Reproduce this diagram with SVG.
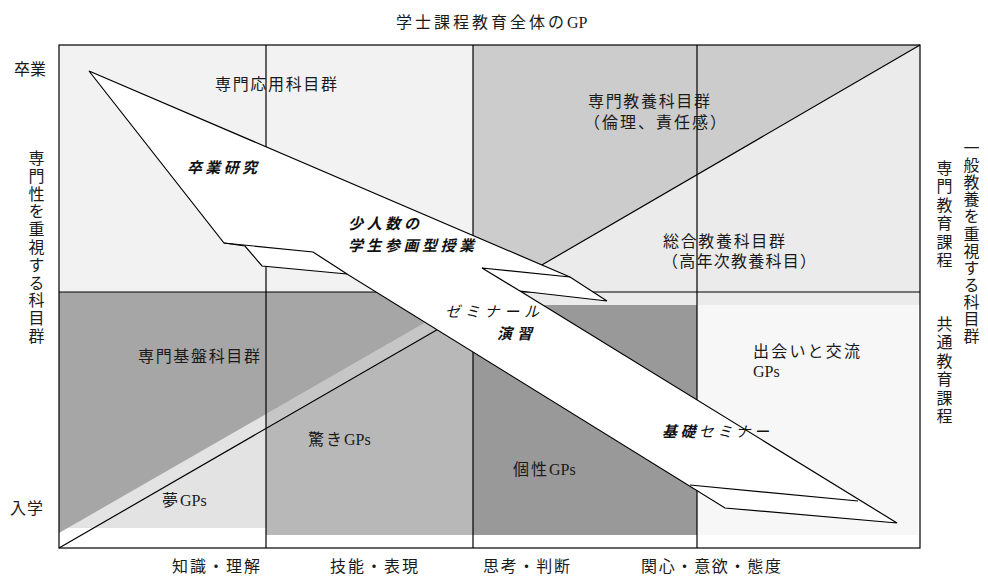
<svg xmlns="http://www.w3.org/2000/svg" width="988" height="577" viewBox="0 0 988 577">
<style>
text{font-family:"Liberation Serif","Noto Sans CJK JP",serif;font-size:16px;fill:#1a1a1a}
.bi{font-family:"Noto Sans CJK JP",sans-serif;font-style:italic;font-weight:bold;fill:#111;font-size:15px}
.i{font-family:"Noto Sans CJK JP",sans-serif;font-style:italic;font-weight:normal;fill:#111;font-size:15px}
.v{writing-mode:vertical-rl}
.ls{letter-spacing:2px}
.ln{stroke:#000;stroke-width:1.2;fill:none}
.arrow{fill:#fff;stroke:#000;stroke-width:1.2;stroke-linejoin:miter}
</style>
<rect width="988" height="577" fill="#fff"/>
<g id="regions">
  <rect id="r-top-left" x="59" y="45" width="414" height="247" fill="#f2f2f2"/>
  <rect id="r-general" x="473" y="45" width="447" height="260" fill="#ebebeb"/>
  <polygon id="r-senmon-kyoyo" points="473,45 920,45 473,305" fill="#cccccc"/>
  <rect id="r-yume" x="59" y="292" width="207" height="236" fill="#e3e3e3"/>
  <rect id="r-odoroki" x="266" y="292" width="207" height="243" fill="#b8b8b8"/>
  <polygon id="r-kiban" points="59,292 473,292 473,295 59,533" fill="#a6a6a6"/>
  <polygon id="r-band" points="266,414 473,295 473,309 266,428" fill="#c6c6c6"/>
  <rect id="r-kosei" x="473" y="305" width="224" height="230" fill="#999999"/>
  <rect id="r-deai" x="697" y="305" width="221" height="230" fill="#f7f7f7"/>
</g>
<g id="connectors">
  <rect x="59" y="45" width="861" height="503" class="ln" stroke-width="1.4"/>
  <line x1="266" y1="45" x2="266" y2="548" class="ln"/>
  <line x1="473" y1="45" x2="473" y2="548" class="ln"/>
  <line x1="697" y1="45" x2="697" y2="548" class="ln"/>
  <line x1="59" y1="292" x2="920" y2="292" class="ln"/>
  <line x1="920" y1="45" x2="473" y2="305" class="ln"/>
  <line x1="59" y1="548" x2="473" y2="309" class="ln"/>
</g>
<g id="arrow">
  <polygon class="arrow" points="89,71 570,277 607,301 520,291 897,523 725,508 347,274 262,266 245,246 224,243"/>
  <polyline class="ln" points="224,243 313,252 347,274"/>
  <polyline class="ln" points="570,277 482,268 520,291"/>
  <line class="ln" x1="690" y1="485" x2="858" y2="501"/>
</g>
<g id="title"><text x="396" y="28" font-size="17"><tspan letter-spacing="3">学士課程教育全体の</tspan><tspan>GP</tspan></text></g>
<g id="axis-left">
  <text x="14" y="75" textLength="32" lengthAdjust="spacing">卒業</text>
  <text x="10" y="514" textLength="33" lengthAdjust="spacing">入学</text>
  <text class="v" x="35" y="150" letter-spacing="1.8">専門性を重視する科目群</text>
</g>
<g id="axis-right">
  <text class="v" x="970" y="140" letter-spacing="1.1">一般教養を重視する科目群</text>
  <text class="v" x="943" y="160" letter-spacing="2.4">専門教育課程</text>
  <text class="v" x="943" y="316" letter-spacing="2.4">共通教育課程</text>
</g>
<g id="axis-bottom">
  <text x="172" y="572" textLength="88" lengthAdjust="spacing">知識・理解</text>
  <text x="330" y="572" textLength="88" lengthAdjust="spacing">技能・表現</text>
  <text x="483" y="572" textLength="87" lengthAdjust="spacing">思考・判断</text>
  <text x="641" y="572" textLength="140" lengthAdjust="spacing">関心・意欲・態度</text>
</g>
<g id="n-senmon-oyo"><text x="215" y="90" textLength="122" lengthAdjust="spacing">専門応用科目群</text></g>
<g id="n-senmon-kyoyo">
  <text x="588" y="107" textLength="122" lengthAdjust="spacing">専門教養科目群</text>
  <text x="584" y="128" textLength="142" lengthAdjust="spacing">（倫理、責任感）</text>
</g>
<g id="n-sogo-kyoyo">
  <text x="663" y="247" textLength="122" lengthAdjust="spacing">総合教養科目群</text>
  <text x="662" y="267" textLength="154" lengthAdjust="spacing">（高年次教養科目）</text>
</g>
<g id="n-senmon-kiban"><text x="138" y="362" textLength="122" lengthAdjust="spacing">専門基盤科目群</text></g>
<g id="n-odoroki"><text x="308" y="445"><tspan class="ls">驚き</tspan><tspan>GPs</tspan></text></g>
<g id="n-yume"><text x="162" y="506"><tspan class="ls">夢</tspan><tspan>GPs</tspan></text></g>
<g id="n-kosei"><text x="513" y="475"><tspan class="ls">個性</tspan><tspan>GPs</tspan></text></g>
<g id="n-deai">
  <text x="753" y="357" textLength="107" lengthAdjust="spacing">出会いと交流</text>
  <text x="753" y="377" font-size="17">GPs</text>
</g>
<g id="n-sotsugyo-kenkyu"><text class="bi" x="187" y="173" textLength="70" lengthAdjust="spacing">卒業研究</text></g>
<g id="n-shoninzu">
  <text class="bi" x="348" y="229" textLength="71" lengthAdjust="spacing">少人数の</text>
  <text class="bi" x="348" y="251" textLength="126" lengthAdjust="spacing">学生参画型授業</text>
</g>
<g id="n-seminar">
  <text class="i" x="445" y="317" textLength="94" lengthAdjust="spacing">ゼミナール</text>
  <text class="bi" x="497" y="339" textLength="35" lengthAdjust="spacing">演習</text>
</g>
<g id="n-kiso"><text x="662" y="437" font-size="15" textLength="107" lengthAdjust="spacing"><tspan class="bi">基礎</tspan><tspan class="i">セミナー</tspan></text></g>
</svg>
